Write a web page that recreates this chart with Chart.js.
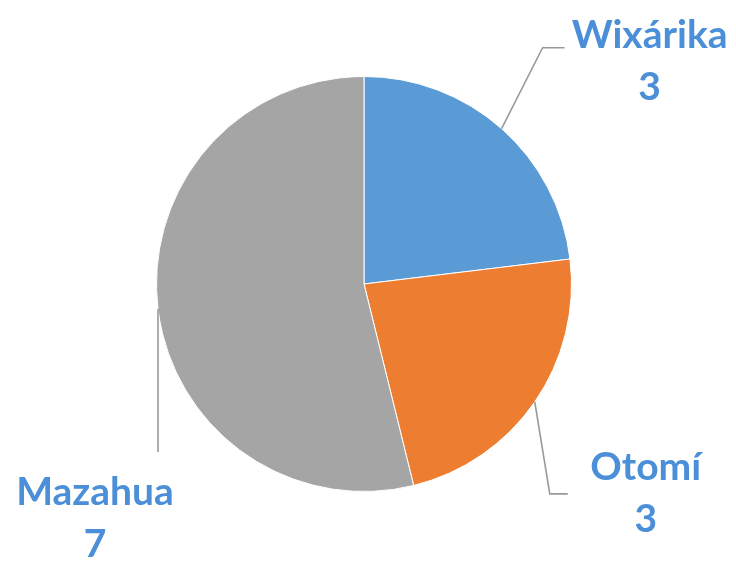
<!DOCTYPE html>
<html>
<head>
<meta charset="utf-8">
<script src="https://cdn.jsdelivr.net/npm/chart.js@4"></script>
<style>
  html, body { margin: 0; padding: 0; background: #ffffff; }
  #wrap { width: 736px; height: 563px; }
</style>
</head>
<body>
<div id="wrap"><canvas id="c" width="736" height="563"></canvas></div>
<script>
const categories = ["Wixárika", "Otomí", "Mazahua"];
const values = [3, 3, 7];
const sliceColors = ["#5B9BD5", "#ED7D31", "#A5A5A5"];

// leader-line geometry relative to each slice's mid-angle outer point
const leaderElbow = [[41, -81], [15, 92], [0, 143]];
const leaderTail = [22, 18, 0];
const labelOffset = [[148, -93], [111, 66], [-63, 183]];

const labelPlugin = {
  id: 'pieLabels',
  afterDatasetsDraw(chart) {
    const ctx = chart.ctx;
    const meta = chart.getDatasetMeta(0);
    meta.data.forEach((arc, i) => {
      const mid = (arc.startAngle + arc.endAngle) / 2;
      const ax = arc.x + Math.cos(mid) * arc.outerRadius;
      const ay = arc.y + Math.sin(mid) * arc.outerRadius;
      const ex = ax + leaderElbow[i][0];
      const ey = ay + leaderElbow[i][1];
      ctx.save();
      ctx.strokeStyle = "#999999";
      ctx.lineWidth = 1.6;
      ctx.beginPath();
      ctx.moveTo(ax, ay);
      ctx.lineTo(ex, ey);
      if (leaderTail[i]) ctx.lineTo(ex + leaderTail[i], ey);
      ctx.stroke();
      const tx = ax + labelOffset[i][0];
      const ty = ay + labelOffset[i][1];
      ctx.fillStyle = "#4a8fd8";
      ctx.font = "bold 39px Lato";
      ctx.textAlign = "center";
      ctx.textBaseline = "middle";
      ctx.fillText(categories[i], tx, ty);
      ctx.fillText(String(values[i]), tx, ty + 52);
      ctx.restore();
    });
  }
};

new Chart(document.getElementById('c'), {
  type: 'pie',
  data: {
    labels: categories,
    datasets: [{
      data: values,
      backgroundColor: sliceColors,
      borderColor: "#ffffff",
      borderWidth: 1
    }]
  },
  options: {
    responsive: false,
    animation: false,
    layout: { padding: { top: 76, bottom: 71, left: 156, right: 164 } },
    plugins: {
      legend: { display: false },
      tooltip: { enabled: false }
    }
  },
  plugins: [labelPlugin]
});
</script>
</body>
</html>
